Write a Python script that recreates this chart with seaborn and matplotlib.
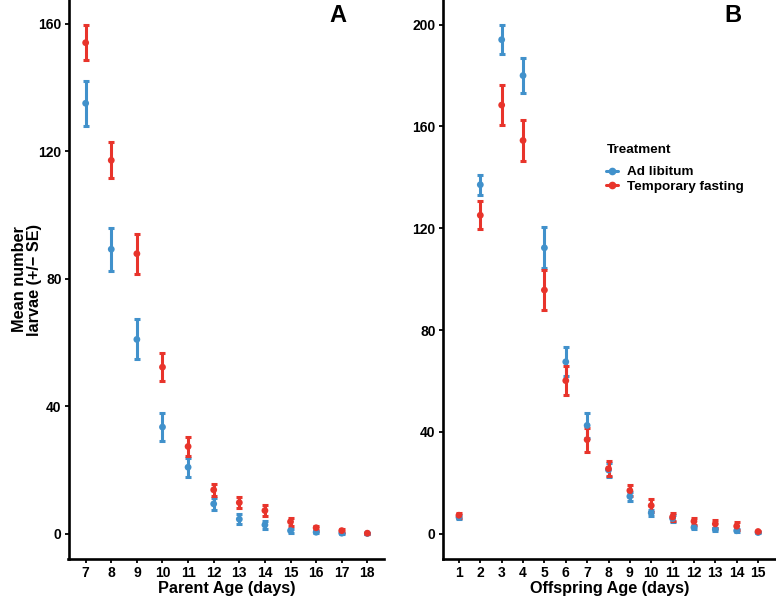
import numpy as np
import pandas as pd
import matplotlib
matplotlib.use("Agg")
import matplotlib.pyplot as plt
from matplotlib.lines import Line2D
import seaborn as sns

# panel A : parent age
parent_age = list(range(7, 19))
a_adlib_mean = [135.0, 89.2, 60.9, 33.4, 20.8, 9.3, 4.5, 2.7, 0.9, 0.4, 0.1, 0.0]
a_adlib_se = [7.1, 6.7, 6.3, 4.3, 3.0, 1.8, 1.6, 1.3, 0.6, 0.3, 0.15, 0.05]
a_fast_mean = [154.0, 117.1, 87.8, 52.2, 27.3, 13.7, 9.7, 7.2, 3.7, 1.8, 0.9, 0.1]
a_fast_se = [5.4, 5.6, 6.3, 4.5, 2.9, 1.8, 1.8, 1.6, 1.2, 0.7, 0.5, 0.1]

# panel B : offspring age
offspring_age = list(range(1, 16))
b_adlib_mean = [6.4, 137.1, 194.1, 180.0, 112.3, 67.5, 42.5, 25.0, 14.6, 8.1, 5.9, 2.4, 1.6, 1.1, 0.4]
b_adlib_se = [0.8, 4.0, 5.6, 7.0, 8.0, 5.7, 4.8, 2.9, 1.8, 1.3, 1.2, 0.7, 0.6, 0.5, 0.2]
b_fast_mean = [7.2, 125.1, 168.4, 154.5, 95.7, 60.1, 36.9, 25.5, 16.9, 11.0, 6.5, 4.8, 3.8, 2.9, 0.8]
b_fast_se = [0.9, 5.5, 7.7, 8.0, 8.0, 5.7, 4.7, 2.9, 2.3, 2.6, 1.6, 1.4, 1.5, 1.5, 0.3]

treatments = ["Ad libitum", "Temporary fasting"]
colors = {"Ad libitum": "#4191CB", "Temporary fasting": "#E8342B"}

sns.set_theme(style="white")
plt.rcParams['font.family'] = ['Liberation Sans', 'DejaVu Sans']
plt.rcParams['font.weight'] = 'bold'
plt.rcParams['text.color'] = 'black'
plt.rcParams['axes.labelcolor'] = 'black'
plt.rcParams['xtick.color'] = 'black'
plt.rcParams['ytick.color'] = 'black'


def make_df(age, m1, s1, m2, s2):
    d1 = pd.DataFrame({'age': age, 'mean': m1, 'se': s1, 'Treatment': treatments[0]})
    d2 = pd.DataFrame({'age': age, 'mean': m2, 'se': s2, 'Treatment': treatments[1]})
    return pd.concat([d1, d2], ignore_index=True)


df_a = make_df(parent_age, a_adlib_mean, a_adlib_se, a_fast_mean, a_fast_se)
df_b = make_df(offspring_age, b_adlib_mean, b_adlib_se, b_fast_mean, b_fast_se)

fig = plt.figure(figsize=(7.76, 5.96), dpi=100)
ax_a = fig.add_axes([68.5 / 776, 37 / 596, (384 - 68.5) / 776, 559 / 596])
ax_b = fig.add_axes([442.5 / 776, 37 / 596, (776 - 442.5) / 776, 559 / 596])


def draw_panel(ax, df):
    for t in treatments:
        sub = df[df['Treatment'] == t]
        ax.errorbar(sub['age'], sub['mean'], yerr=sub['se'], fmt='none',
                    ecolor=colors[t], elinewidth=2.2, capsize=2.2, capthick=2.2, zorder=2)
        sns.scatterplot(data=sub, x='age', y='mean', color=colors[t], s=24,
                        edgecolor='none', ax=ax, legend=False, zorder=3)
    for side in ['top', 'right']:
        ax.spines[side].set_visible(False)
    for side in ['left', 'bottom']:
        ax.spines[side].set_linewidth(1.9)
        ax.spines[side].set_color('black')
    ax.tick_params(axis='both', which='both', length=3, width=1.3, color='black',
                   labelsize=10, labelcolor='black', pad=2, direction='out',
                   left=True, bottom=True)
    ax.grid(False)


draw_panel(ax_a, df_a)
ax_a.set_xlim(6.33, 18.65)
ax_a.set_ylim(-8, 167.4)
ax_a.set_xticks(parent_age)
ax_a.set_yticks([0, 40, 80, 120, 160])
ax_a.set_xlabel("Parent Age (days)", fontsize=11.7, fontweight='bold', labelpad=1)
ax_a.set_ylabel("Mean number\nlarvae (+/\u2212 SE)", fontsize=11.7, fontweight='bold',
                labelpad=-3, linespacing=1.0)
ax_a.text(0.854, 0.973, "A", transform=ax_a.transAxes, ha='center', va='center',
          fontsize=17, fontweight='bold')

draw_panel(ax_b, df_b)
ax_b.set_xlim(0.23, 15.84)
ax_b.set_ylim(-10, 209.7)
ax_b.set_xticks(offspring_age)
ax_b.set_yticks([0, 40, 80, 120, 160, 200])
ax_b.set_xlabel("Offspring Age (days)", fontsize=11.7, fontweight='bold', labelpad=1)
ax_b.set_ylabel("")
ax_b.text(0.871, 0.973, "B", transform=ax_b.transAxes, ha='center', va='center',
          fontsize=17, fontweight='bold')

# legend title drawn separately to get the ggplot-like gap
fig.text(607 / 776, 1 - 150 / 596, "Treatment", ha='left', va='center',
         fontsize=9.7, fontweight='bold')
handles = [Line2D([0], [0], color=colors[t], lw=2.2, marker='o', markersize=4.5) for t in treatments]
leg = ax_b.legend(handles, treatments, loc='upper left',
                  bbox_to_anchor=(606 / 776, 1 - 166 / 596), bbox_transform=fig.transFigure,
                  frameon=False, fontsize=9.7, handlelength=0.9,
                  handletextpad=0.65, labelspacing=0.15, borderpad=0, borderaxespad=0)

fig.savefig("out.png", dpi=100)
